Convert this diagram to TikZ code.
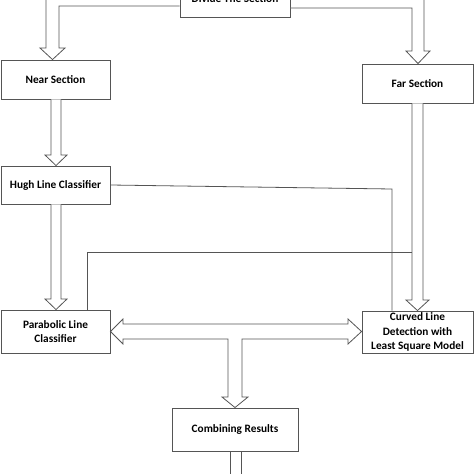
\documentclass[tikz,border=0pt]{standalone}
\usepackage{fontspec}
\setmainfont{Carlito}
\usetikzlibrary{calc}
\definecolor{ln}{HTML}{555555}
\tikzset{
  box/.style={draw=ln, line width=0.9pt, fill=white, align=center, font=\fontsize{11.3}{14.5}\selectfont\bfseries, inner sep=0pt},
  hol/.style={draw=ln, line width=0.8pt, fill=white, line join=miter},
  wire/.style={draw=ln, line width=0.8pt}
}
\begin{document}
\begin{tikzpicture}[x=1pt,y=-1pt]
\useasboundingbox (0,0) rectangle (474,474);
\clip (0,0) rectangle (474,474);
\fill[white] (0,0) rectangle (474,474);
% nodes
\node[box, minimum width=110pt, minimum height=37pt] (top) at (235,-1.5) {};
\node[font=\fontsize{11.3}{14.5}\selectfont\bfseries, anchor=base, inner sep=0pt] (toptext) at (235,2.5) {Divide The Section};
\node[box, minimum width=109pt, minimum height=39pt] (near) at (55.5,79.5) {Near Section};
\node[box, minimum width=111pt, minimum height=39pt] (far) at (417.5,83.5) {Far Section};
\node[box, minimum width=109pt, minimum height=38pt] (hugh) at (55.5,185) {Hugh Line Classifier};
\node[box, minimum width=109pt, minimum height=43pt] (para) at (55.5,331.5) {Parabolic Line\\Classifier};
\node[box, minimum width=111pt, minimum height=42pt] (curved) at (417.5,332) {Curved Line\\Detection with\\Least Square Model};
\node[box, minimum width=126pt, minimum height=43pt] (comb) at (235,429.5) {Combining Results};
\coordinate (offtop) at (46,-10);
\coordinate (offtopR) at (424,-10);
% hollow arrow: top -> near
\path[hol] (offtop) -- (46,48) -- (40,48) -- (near.north -| 52.5,0) -- (65,48) -- (59,48) -- (59,6) -- (top.west |- 0,6);
% hollow arrow: top -> far
\path[hol] (offtopR) -- (424,51) -- (430,51) -- (far.north -| 418,0) -- (406,51) -- (412,51) -- (412,8) -- (top.east |- 0,8);
% near -> hugh
\path[hol] (near.south -| 51,0) -- (51,155) -- (45,155) -- (hugh.north -| 56,0) -- (67,155) -- (61,155) -- (near.south -| 61,0);
% hugh -> para
\path[hol] (hugh.south -| 51,0) -- (51,299) -- (45,299) -- (para.north -| 56,0) -- (67,299) -- (61,299) -- (hugh.south -| 61,0);
% far -> curved
\path[hol] (far.south -| 412,0) -- (412,300) -- (406,300) -- (curved.north -| 417.5,0) -- (429,300) -- (423,300) -- (far.south -| 423,0);
% hugh -> curved wire
\draw[wire] (hugh.east |- 0,185) -- (392,189) -- (curved.north -| 392,0);
% para -> far-arrow wire
\draw[wire] (para.north -| 87,0) -- (87,252) -- (412,252);
% double arrow with down branch
\path[hol] (123,324) -- (348,324) -- (348,319) -- (curved.west |- 0,331.5) -- (348,344) -- (348,339) -- (242,339) -- (242,397) -- (248,397) -- (comb.north) -- (222,397) -- (228,397) -- (228,339) -- (123,339) -- (123,344) -- (para.east |- 0,331.5) -- (123,319) -- cycle;
% bottom exit
\draw[wire] (comb.south -| 230,0) -- (230,480);
\draw[wire] (comb.south -| 241,0) -- (241,480);
\end{tikzpicture}
\end{document}
